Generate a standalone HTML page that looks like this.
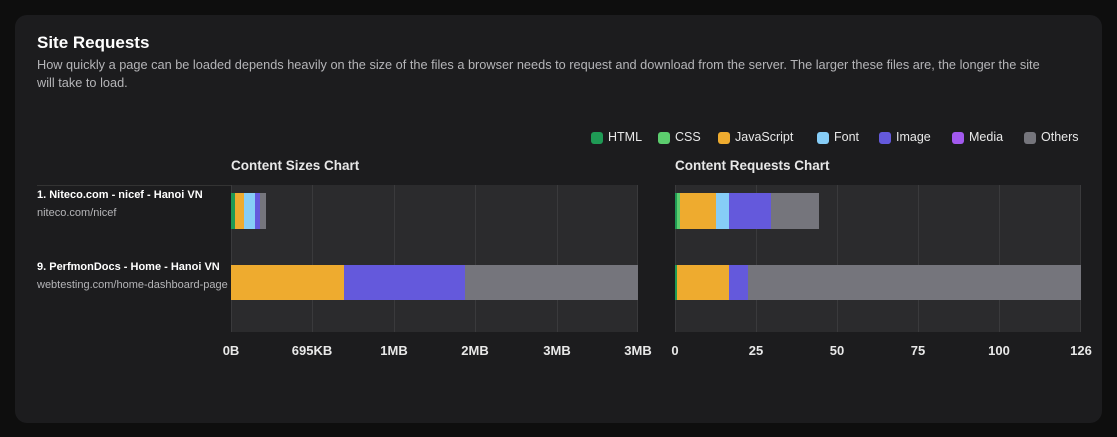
<!DOCTYPE html><html><head><style>
body{margin:0;width:1117px;height:437px;background:#0e0e0e;font-family:"Liberation Sans",sans-serif;position:relative;overflow:hidden}
.card{position:absolute;left:15px;top:15px;width:1087px;height:408px;background:#1c1c1e;border-radius:12px}
.a{position:absolute}
.t{color:#fff;font-size:17px;font-weight:bold;left:37px;top:33px}
.d{color:#b5b5b8;font-size:12.75px;left:37px;top:56px;white-space:nowrap;line-height:18px}
.lg{top:130px;font-size:12.5px;color:#e8e8e8}
.sw{position:absolute;width:12px;height:12px;border-radius:3px;top:2px}
.plot{background:#2b2b2d;top:185px;height:147px}
.g{position:absolute;top:0;bottom:0;width:1px;background:#3a3a3c}
.s{position:absolute}
.tk{top:343px;color:#e8e8e8;font-size:13px;font-weight:bold;transform:translateX(-50%)}
.ct{color:#e8e8e8;font-size:13.5px;font-weight:bold;top:158px}
.n{color:#fff;font-size:11px;font-weight:bold;left:37px}
.u{color:#b5b5b8;font-size:11px;left:37px}
</style></head><body><div class="card"></div>
<div class="a t">Site Requests</div>
<div class="a d">How quickly a page can be loaded depends heavily on the size of the files a browser needs to request and download from the server. The larger these files are, the longer the site<br>will take to load.</div>
<div class="a lg" style="left:591px"><span class="sw" style="background:#1f9a55;left:0"></span><span style="margin-left:17px">HTML</span></div>
<div class="a lg" style="left:658px"><span class="sw" style="background:#5ccd6e;left:0"></span><span style="margin-left:17px">CSS</span></div>
<div class="a lg" style="left:718px"><span class="sw" style="background:#eeab2f;left:0"></span><span style="margin-left:17px">JavaScript</span></div>
<div class="a lg" style="left:817px"><span class="sw" style="background:#86cdf7;left:0"></span><span style="margin-left:17px">Font</span></div>
<div class="a lg" style="left:879px"><span class="sw" style="background:#6459dc;left:0"></span><span style="margin-left:17px">Image</span></div>
<div class="a lg" style="left:952px"><span class="sw" style="background:#a259ee;left:0"></span><span style="margin-left:17px">Media</span></div>
<div class="a lg" style="left:1024px"><span class="sw" style="background:#75757c;left:0"></span><span style="margin-left:17px">Others</span></div>
<div class="a ct" style="left:231px">Content Sizes Chart</div>
<div class="a ct" style="left:675px">Content Requests Chart</div>
<div class="a" style="left:37px;top:185px;width:194px;height:1px;background:#333"></div>
<div class="a n" style="top:189px">1. Niteco.com - nicef - Hanoi VN</div>
<div class="a u" style="top:207px">niteco.com/nicef</div>
<div class="a n" style="top:261px">9. PerfmonDocs - Home - Hanoi VN</div>
<div class="a u" style="top:279px;width:194px;overflow:hidden;white-space:nowrap">webtesting.com/home-dashboard-page</div>
<div class="a plot" style="left:231px;width:407px">
<div class="g" style="left:0"></div><div class="g" style="left:81px"></div><div class="g" style="left:163px"></div><div class="g" style="left:244px"></div><div class="g" style="left:326px"></div><div class="g" style="left:406px"></div>
<div class="s" style="top:8px;height:36px;left:0;width:4px;background:#1f9a55"></div>
<div class="s" style="top:8px;height:36px;left:4px;width:9px;background:#eeab2f"></div>
<div class="s" style="top:8px;height:36px;left:13px;width:11px;background:#86cdf7"></div>
<div class="s" style="top:8px;height:36px;left:24px;width:5px;background:#6459dc"></div>
<div class="s" style="top:8px;height:36px;left:29px;width:6px;background:#75757c"></div>
<div class="s" style="top:80px;height:35px;left:0;width:113px;background:#eeab2f"></div>
<div class="s" style="top:80px;height:35px;left:113px;width:121px;background:#6459dc"></div>
<div class="s" style="top:80px;height:35px;left:234px;width:173px;background:#75757c"></div>
</div>
<div class="a plot" style="left:675px;width:406px">
<div class="g" style="left:0"></div><div class="g" style="left:81px"></div><div class="g" style="left:162px"></div><div class="g" style="left:243px"></div><div class="g" style="left:324px"></div><div class="g" style="left:405px"></div>
<div class="s" style="top:8px;height:36px;left:0;width:2px;background:#1f9a55"></div>
<div class="s" style="top:8px;height:36px;left:2px;width:3px;background:#5ccd6e"></div>
<div class="s" style="top:8px;height:36px;left:5px;width:36px;background:#eeab2f"></div>
<div class="s" style="top:8px;height:36px;left:41px;width:13px;background:#86cdf7"></div>
<div class="s" style="top:8px;height:36px;left:54px;width:42px;background:#6459dc"></div>
<div class="s" style="top:8px;height:36px;left:96px;width:48px;background:#75757c"></div>
<div class="s" style="top:80px;height:35px;left:0;width:2px;background:#1f9a55"></div>
<div class="s" style="top:80px;height:35px;left:2px;width:52px;background:#eeab2f"></div>
<div class="s" style="top:80px;height:35px;left:54px;width:19px;background:#6459dc"></div>
<div class="s" style="top:80px;height:35px;left:73px;width:333px;background:#75757c"></div>
</div>
<div class="a tk" style="left:231px">0B</div><div class="a tk" style="left:312px">695KB</div><div class="a tk" style="left:394px">1MB</div><div class="a tk" style="left:475px">2MB</div><div class="a tk" style="left:557px">3MB</div><div class="a tk" style="left:638px">3MB</div>
<div class="a tk" style="left:675px">0</div><div class="a tk" style="left:756px">25</div><div class="a tk" style="left:837px">50</div><div class="a tk" style="left:918px">75</div><div class="a tk" style="left:999px">100</div><div class="a tk" style="left:1081px">126</div>
</body></html>
